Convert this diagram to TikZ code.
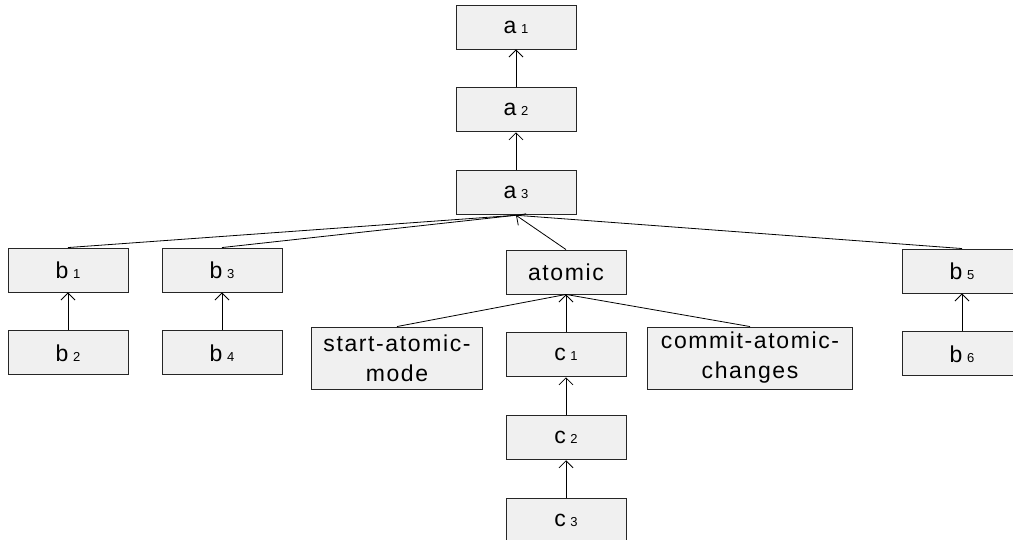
\documentclass[tikz,border=0pt]{standalone}
\usepackage{fontspec}
\setmainfont{Liberation Sans}
\newfontfamily\boxfont[LetterSpace=7]{Liberation Sans}
\usetikzlibrary{arrows.meta}
\usetikzlibrary{positioning}

\newcommand{\idx}[2]{#1\hspace{4.5pt}{\fontsize{13}{13}\selectfont #2}}

\begin{document}
\begin{tikzpicture}[
      x = 1pt, y = 1pt,
      >={Straight Barb[length=7pt, width=14pt]},
      node distance = 38pt,
      box/.style = {
        rectangle, draw = black!85, line width = .9pt, fill = gray!12,
        minimum width = 120pt, minimum height = 44pt, inner sep = 0pt,
        font = {\boxfont\fontsize{23}{30}\selectfont}
      },
      wide/.style = { align = center, minimum height = 62pt },
      link/.style = { ->, line width = .8pt },
      branch/.style = { line width = .8pt },
    ]
    \useasboundingbox (0,0) rectangle (1013,-540);

    %% main chain
    \node[box] (a1) at (516,-27) {\idx{a}{1}};
    \node[box, below = of a1] (a2) {\idx{a}{2}};
    \node[box, below = of a2] (a3) {\idx{a}{3}};

    %% children of a3
    \node[box] (b1) at (68,-270) {\idx{b}{1}};
    \node[box] (b3) at (222,-270) {\idx{b}{3}};
    \node[box] (atomic) at (566,-272) {atomic};
    \node[box] (b5) at (962,-271) {\idx{b}{5}};

    \node[box, below = of b1] (b2) {\idx{b}{2}};
    \node[box, below = of b3] (b4) {\idx{b}{4}};
    \node[box, below = of b5] (b6) {\idx{b}{6}};

    %% atomic block
    \node[box, wide, minimum width = 171pt] (start) at (397,-358) {start-atomic-\\mode};
    \node[box, wide, minimum width = 205pt] (commit) at (750,-358) {commit-atomic-\\changes};
    \node[box, below = of atomic] (c1) {\idx{c}{1}};
    \node[box, below = of c1] (c2) {\idx{c}{2}};
    \node[box, below = of c2] (c3) {\idx{c}{3}};

    \foreach \d in {b1, b3, b5} {
      \draw[branch] (\d.north) -- (a3.south);
    }
    \draw[link] (atomic.north) -- (a3.south);

    \foreach \d in {start, commit} {
      \draw[branch] (\d.north) -- (atomic.south);
    }
    \draw[link] (c1.north) -- (atomic.south);

    \foreach \p/\d in {a1/a2, a2/a3, b1/b2, b3/b4, b5/b6, c1/c2, c2/c3} {
      \draw[link] (\d) -- (\p);
    }
  \end{tikzpicture}
\end{document}
